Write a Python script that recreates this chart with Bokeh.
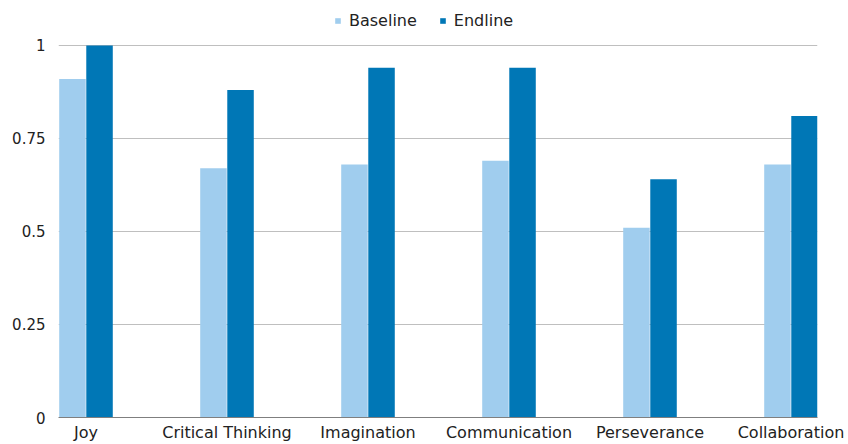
from bokeh.plotting import figure
from bokeh.models import ColumnDataSource, FixedTicker, Legend, LegendItem, Range1d
from bokeh.embed import file_html
from bokeh.resources import INLINE

categories = ["Joy", "Critical Thinking", "Imagination", "Communication", "Perseverance", "Collaboration"]
baseline = [0.91, 0.67, 0.68, 0.69, 0.51, 0.68]
endline = [1.0, 0.88, 0.94, 0.94, 0.64, 0.81]
y_ticks = [0, 0.25, 0.5, 0.75, 1]
y_tick_labels = ["0", "0.25", "0.5", "0.75", "1"]

FONT = "DejaVu Sans"
BASE_COLOR = "#A0CDEE"
END_COLOR = "#0077B6"

xs = list(range(len(categories)))
bw = 0.188
src = ColumnDataSource(dict(
    x=xs,
    base=baseline,
    end=endline,
    base_x=[x - bw / 2 - 0.002 for x in xs],
    end_x=[x + bw / 2 + 0.002 for x in xs],
))

# the frame reaches the top of the canvas so the legend sits inside it,
# above the 1.0 gridline
p = figure(width=848, height=444, output_backend="svg", toolbar_location=None,
           x_range=Range1d(-0.195, 5.188), y_range=Range1d(0, 418 / 373),
           min_border_left=58, min_border_right=31, min_border_top=0, min_border_bottom=26)
p.outline_line_color = None
p.background_fill_color = "white"

r_base = p.vbar(x="base_x", top="base", width=bw, source=src, fill_color=BASE_COLOR, line_color=None)
r_end = p.vbar(x="end_x", top="end", width=bw, source=src, fill_color=END_COLOR, line_color=None)

# axes
p.xaxis.ticker = FixedTicker(ticks=xs)
p.xaxis.major_label_overrides = {i: c for i, c in enumerate(categories)}
p.xaxis.axis_line_color = "#7F7F7F"
p.xaxis.axis_line_width = 1
p.xaxis.major_tick_line_color = None
p.xaxis.minor_tick_line_color = None
p.xaxis.major_tick_out = 0
p.xaxis.major_tick_in = 0
p.xaxis.axis_label_standoff = 0
p.xaxis.major_label_standoff = 5
p.xaxis.major_label_text_font = FONT
p.xaxis.major_label_text_font_size = "16px"
p.xaxis.major_label_text_color = "#222222"

p.yaxis.ticker = FixedTicker(ticks=y_ticks)
p.yaxis.major_label_overrides = {t: l for t, l in zip(y_ticks, y_tick_labels)}
p.yaxis.axis_line_color = None
p.yaxis.major_tick_line_color = None
p.yaxis.minor_tick_line_color = None
p.yaxis.major_tick_out = 0
p.yaxis.major_tick_in = 0
p.yaxis.major_label_standoff = 13
p.yaxis.major_label_text_font = FONT
p.yaxis.major_label_text_font_size = "15px"
p.yaxis.major_label_text_color = "#222222"

p.xgrid.grid_line_color = None
p.ygrid.ticker = FixedTicker(ticks=[0.25, 0.5, 0.75, 1])
p.ygrid.grid_line_color = "#BFBFBF"
p.ygrid.grid_line_width = 1

legend = Legend(items=[LegendItem(label="Baseline", renderers=[r_base]),
                       LegendItem(label="Endline", renderers=[r_end])],
                orientation="horizontal", location=(276, 387),
                label_text_font=FONT, label_text_font_size="16px", label_text_color="#222222",
                glyph_width=7, glyph_height=7, label_standoff=8, spacing=22,
                padding=0, margin=0, border_line_color=None, background_fill_alpha=0)
p.add_layout(legend, "center")

open("out.html", "w").write(file_html(p, INLINE))
